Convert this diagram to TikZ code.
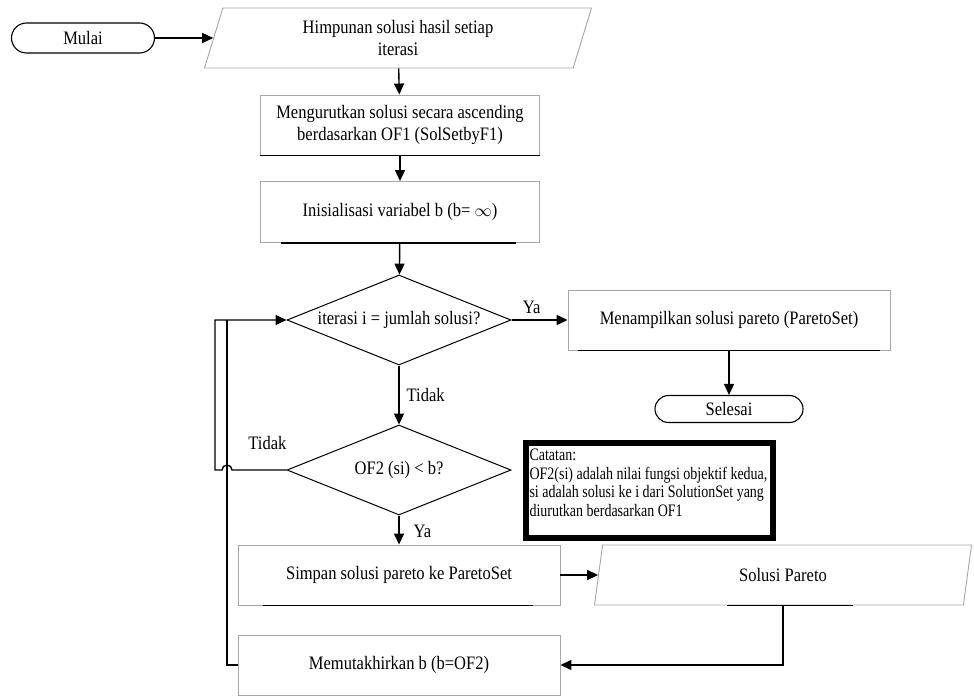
\documentclass[tikz,border=0pt]{standalone}
\usepackage{fontspec}
\setmainfont[FakeStretch=0.87]{Liberation Serif}
\newfontfamily\sempit[FakeStretch=0.8]{Liberation Serif}
\usetikzlibrary{shapes}
\usetikzlibrary{arrows.meta}
\usetikzlibrary{positioning}

\tikzset{
  teks/.style={font=\fontsize{19}{22}\selectfont},
  proses/.style={teks, rectangle, draw=gray!70, line width=0.9pt, align=center,
    minimum width=322, minimum height=60, inner sep=2pt},
  data/.style={teks, trapezium, trapezium left angle=65, trapezium right angle=115,
    trapezium stretches body, draw=gray!70, line width=0.9pt, align=center,
    minimum height=60, inner sep=2pt},
  terminal/.style={teks, rounded rectangle, draw, line width=1.1pt, inner sep=2pt},
  keputusan/.style={teks, diamond, aspect=2.5, draw, line width=1pt,
    minimum width=224, minimum height=90, inner sep=0pt},
  catatan/.style={draw, line width=6pt, inner xsep=3.5, inner ysep=6,
    font=\sempit\fontsize{17.5}{18.5}\selectfont},
  ket/.style={teks, inner sep=2pt},
  garis/.style={line width=1.4pt},
  panah/.style={garis, -{Triangle[length=11pt,width=10pt]}},
  tepi/.style={line width=1.8pt}
}

\begin{document}
\begin{tikzpicture}[x=1pt, y=-1pt]
  \useasboundingbox (0,0) rectangle (974,698);

  % alur utama
  \node[terminal, minimum width=147, minimum height=30] (mulai) at (83,38) {Mulai};
  \node[data, minimum width=387] (himpunan) at (398,38) {Himpunan solusi hasil setiap\\iterasi};
  \node[proses, minimum width=279] (urut) at (400,125) {Mengurutkan solusi secara ascending\\berdasarkan OF1 (SolSetbyF1)};
  \node[proses, minimum width=279, minimum height=61] (init) at (400,212) {Inisialisasi variabel b (b= $\infty$)};
  \node[keputusan] (cek1) at (399,320) {iterasi i = jumlah solusi?};
  \node[proses] (tampil) at (729,320) {Menampilkan solusi pareto (ParetoSet)};
  \node[terminal, minimum width=152, minimum height=27] (selesai) at (729,409) {Selesai};
  \node[keputusan] (cek2) at (399,470) {OF2 (si) < b?};
  \node[proses] (simpan) at (399,575) {Simpan solusi pareto ke ParetoSet};
  \node[data, minimum width=377] (pareto) at (783,575) {Solusi Pareto};
  \node[proses] (update) at (399,665) {Memutakhirkan b (b=OF2)};

  \node[catatan, anchor=north west] (catatan) at (523,440)
    {\parbox[c][83pt][t]{240pt}{\raggedright Catatan:\\
      OF2(si) adalah nilai fungsi objektif kedua,\\
      si adalah solusi ke i dari SolutionSet yang\\
      diurutkan berdasarkan OF1}};

  % garis tebal di tepi bawah kotak
  \draw[tepi] (urut.south west) -- (urut.south east);
  \draw[tepi] ([xshift=21]init.south west) -- ([xshift=-24]init.south east);
  \draw[tepi] ([xshift=10]tampil.south west) -- ([xshift=-10]tampil.south east);
  \draw[tepi] ([xshift=25]simpan.south west) -- ([xshift=-27]simpan.south east);
  \draw[tepi] ([xshift=-56]pareto.south) -- ([xshift=70]pareto.south);

  % panah
  \draw[panah] (mulai.east) -- (himpunan.left side);
  \draw[panah] (himpunan) -- (urut);
  \draw[panah] (urut) -- (init);
  \draw[panah] (init) -- (cek1);
  \draw[panah] (cek1.east) -- node[ket, above=4pt, pos=0.36] {Ya} (tampil.west);
  \draw[panah] (tampil) -- (selesai);
  \draw[panah] (cek1) -- node[ket, right=5pt] {Tidak} (cek2);
  \draw[panah] (cek2) -- node[ket, right=12pt, pos=0.55] {Ya} (simpan);
  \draw[panah] (simpan.east) -- (pareto.left side);
  \draw[panah] (pareto.south) |- (update.east);

  % kembali ke iterasi
  \draw[garis] (update.west) -- (227,665) -- (227,320);
  \draw[panah] (cek2.west) -- node[ket, above=18pt, pos=0.35] {Tidak} (232,470)
    arc[start angle=0, end angle=-180, radius=5] -- (215,470) |- (cek1.west);
\end{tikzpicture}
\end{document}
